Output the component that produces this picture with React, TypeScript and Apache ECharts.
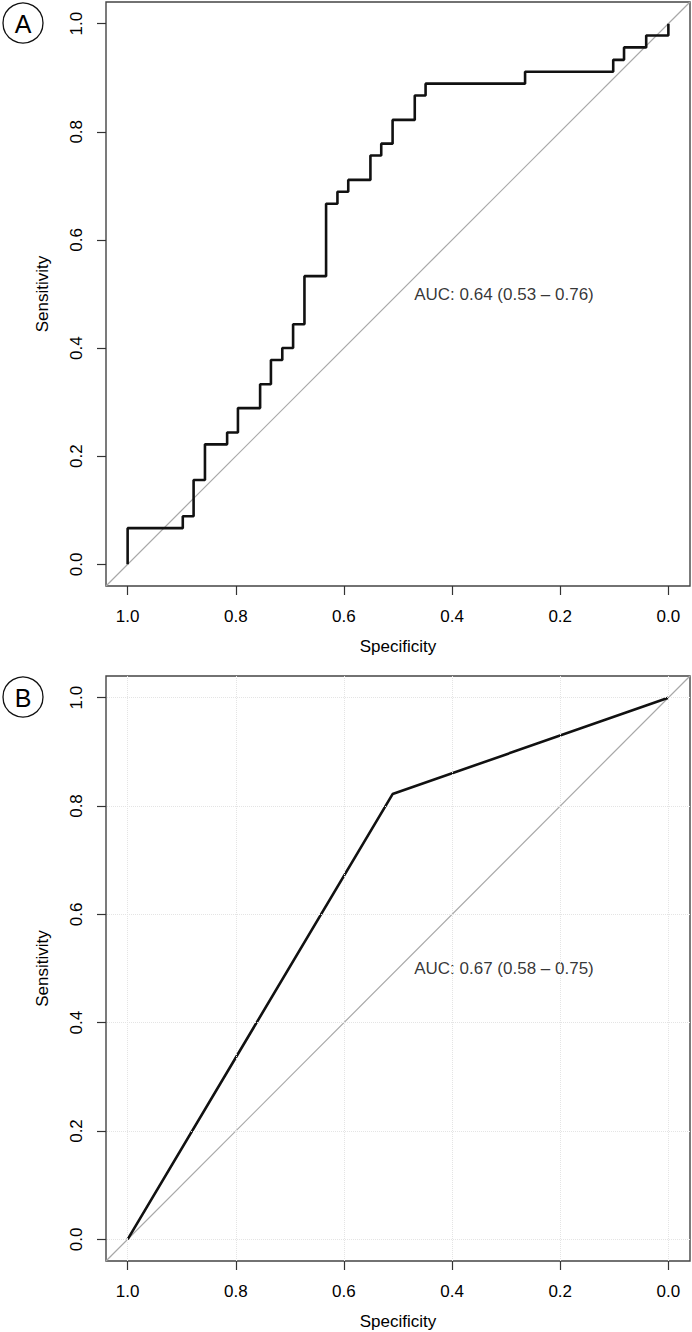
import React, { useEffect, useRef } from "react";
import * as echarts from "echarts";

// ----- data -----
const ticks = [0, 0.2, 0.4, 0.6, 0.8, 1.0];
const axisMin = -0.04;
const axisMax = 1.04;

// Panel A ROC curve (specificity, sensitivity) at each threshold
const specA = [1, 1, 0.898, 0.878, 0.857, 0.816, 0.796, 0.755, 0.735, 0.714, 0.694, 0.673, 0.633, 0.612, 0.592, 0.551, 0.531, 0.51, 0.469, 0.449, 0.265, 0.102, 0.082, 0.041, 0];
const sensA = [0, 0.067, 0.089, 0.156, 0.222, 0.244, 0.289, 0.333, 0.378, 0.4, 0.444, 0.533, 0.667, 0.689, 0.711, 0.756, 0.778, 0.822, 0.867, 0.889, 0.911, 0.933, 0.956, 0.978, 1];

// Panel B ROC curve
const specB = [1, 0.51, 0];
const sensB = [0, 0.822, 1];

const aucTextA = "AUC: 0.64 (0.53 – 0.76)";
const aucTextB = "AUC: 0.67 (0.58 – 0.75)";
const aucPos = [0.47, 0.5];

const panelLabels = ["A", "B"];

const FONT = "'Liberation Sans', Arial, Helvetica, sans-serif";
const FS = 17;

function stepPoints(spec: number[], sens: number[]) {
  const pts: number[][] = [];
  for (let i = 0; i < spec.length; i++) {
    if (i > 0) pts.push([spec[i], sens[i - 1]]);
    pts.push([spec[i], sens[i]]);
  }
  return pts;
}

export default function App() {
  const ref = useRef<HTMLDivElement>(null);
  useEffect(() => {
    document.body.style.margin = "0";
    const chart = echarts.init(ref.current!, null, { renderer: "svg" });

    const grids = [
      { left: 106, top: 2, width: 584, height: 584 },
      { left: 106, top: 676, width: 584, height: 585 },
    ];

    const mkX = (gi: number) => ({
      type: "value",
      gridIndex: gi,
      inverse: true,
      min: axisMin,
      max: axisMax,
      name: "Specificity",
      nameLocation: "middle",
      nameGap: 52,
      nameTextStyle: { fontSize: FS, color: "#000", fontFamily: FONT },
      axisLine: { show: false, onZero: false },
      axisTick: { show: true, length: 9, customValues: ticks, lineStyle: { color: "#333", width: 1.2 } },
      axisLabel: {
        customValues: ticks,
        formatter: (v: number) => v.toFixed(1),
        fontSize: FS,
        color: "#000",
        fontFamily: FONT,
        margin: 22,
      },
      splitLine: { show: false },
    });
    const mkY = (gi: number) => ({
      type: "value",
      gridIndex: gi,
      min: axisMin,
      max: axisMax,
      name: "Sensitivity",
      nameLocation: "middle",
      nameGap: 55,
      nameRotate: 90,
      nameTextStyle: { fontSize: FS, color: "#000", fontFamily: FONT },
      axisLine: { show: false, onZero: false },
      axisTick: { show: true, length: 9, customValues: ticks, lineStyle: { color: "#333", width: 1.2 } },
      axisLabel: {
        customValues: ticks,
        formatter: (v: number) => v.toFixed(1),
        rotate: 90,
        fontSize: FS,
        color: "#000",
        fontFamily: FONT,
        margin: 21,
      },
      splitLine: { show: false },
    });

    const diag = [
      [axisMax, 1 - axisMax],
      [axisMin, 1 - axisMin],
    ];

    const series: any[] = [];
    [0, 1].forEach((gi) => {
      series.push({
        type: "line",
        xAxisIndex: gi,
        yAxisIndex: gi,
        data: diag,
        symbol: "none",
        lineStyle: { color: "#a8a8a8", width: 1.2 },
        silent: true,
        z: 2,
        markLine:
          gi === 1
            ? {
                silent: true,
                symbol: ["none", "none"],
                label: { show: false },
                lineStyle: { color: "#e4e4e4", type: "dotted", width: 1 },
                data: [...ticks.map((v) => ({ xAxis: v })), ...ticks.map((v) => ({ yAxis: v }))],
              }
            : undefined,
      });
    });
    series.push({
      type: "line",
      xAxisIndex: 0,
      yAxisIndex: 0,
      data: stepPoints(specA, sensA),
      symbol: "none",
      lineStyle: { color: "#111", width: 2.6 },
      z: 3,
    });
    series.push({
      type: "line",
      xAxisIndex: 1,
      yAxisIndex: 1,
      data: specB.map((s, i) => [s, sensB[i]]),
      symbol: "none",
      lineStyle: { color: "#111", width: 2.6 },
      z: 3,
    });
    [aucTextA, aucTextB].forEach((t, gi) => {
      series.push({
        type: "scatter",
        xAxisIndex: gi,
        yAxisIndex: gi,
        data: [aucPos],
        symbolSize: 0,
        silent: true,
        label: {
          show: true,
          position: "right",
          distance: 0,
          formatter: t,
          fontSize: FS,
          color: "#000",
          fontFamily: FONT,
        },
        z: 4,
      });
    });

    const graphic: any[] = [];
    panelLabels.forEach((lab, i) => {
      const cy = i === 0 ? 23 : 697;
      graphic.push({
        type: "circle",
        shape: { cx: 23, cy, r: 20 },
        style: { fill: "#fff", stroke: "#111", lineWidth: 1.3 },
      });
      graphic.push({
        type: "text",
        x: 23,
        y: cy + 1,
        style: {
          text: lab,
          fontSize: 25,
          fontFamily: FONT,
          fill: "#000",
          align: "center",
          verticalAlign: "middle",
        },
      });
    });

    chart.setOption({
      animation: false,
      backgroundColor: "#fff",
      grid: grids.map((g) => ({
        ...g,
        show: true,
        borderColor: "#444",
        borderWidth: 1.4,
        backgroundColor: "transparent",
        containLabel: false,
      })),
      xAxis: [mkX(0), mkX(1)],
      yAxis: [mkY(0), mkY(1)],
      series,
      graphic,
    });
    return () => chart.dispose();
  }, []);
  return <div ref={ref} style={{ width: 692, height: 1332 }} />;
}
